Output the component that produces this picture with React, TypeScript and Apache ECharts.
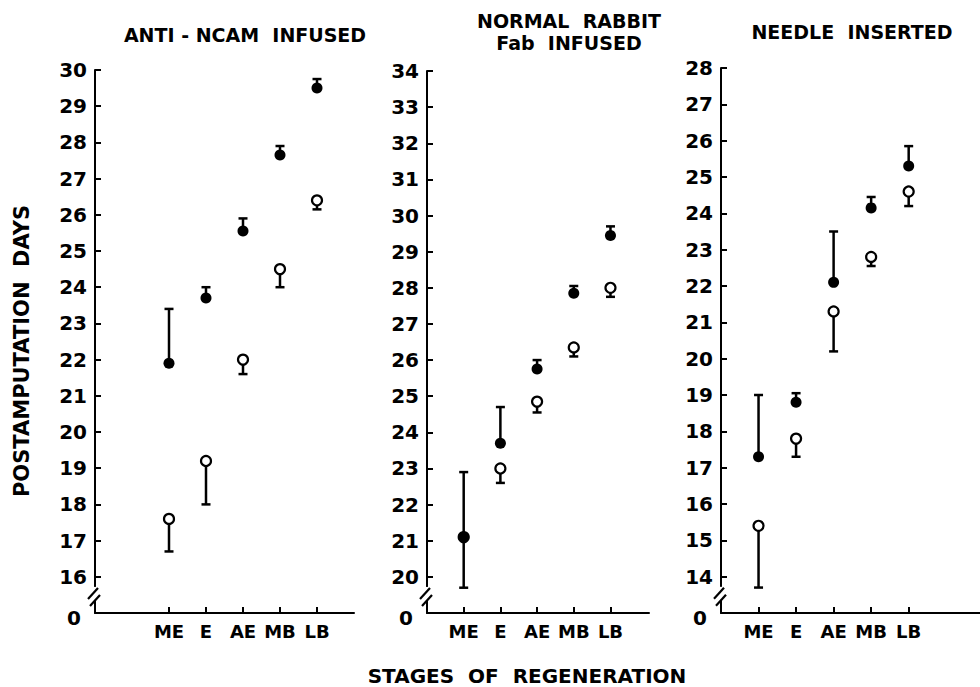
import React, { useEffect, useRef } from 'react';
import * as echarts from 'echarts';

const stages = ['ME', 'E', 'AE', 'MB', 'LB'];
const panelTitles = ['ANTI - NCAM  INFUSED', 'NORMAL  RABBIT\nFab  INFUSED', 'NEEDLE  INSERTED'];
const yAxisName = 'POSTAMPUTATION  DAYS';
const xAxisName = 'STAGES  OF  REGENERATION';

// lowest axis value is drawn as the broken "0"
const yFloor = [15, 19, 13];
const yTop = [30, 34, 28];
const stageOffset = [2, 1, 1];
const xMax = [7, 6.05, 6.9];

const antiFilled = [21.9, 23.7, 25.55, 27.65, 29.5];
const antiFilledUpper = [23.4, 24.0, 25.9, 27.9, 29.75];
const antiOpen = [17.6, 19.2, 22.0, 24.5, 26.4];
const antiOpenLower = [16.7, 18.0, 21.6, 24.0, 26.15];

const rabbitFilled = [21.1, 23.7, 25.75, 27.85, 29.45];
const rabbitFilledUpper = [22.9, 24.7, 26.0, 28.05, 29.7];
const rabbitOpen = [21.1, 23.0, 24.85, 26.35, 28.0];
const rabbitOpenLower = [19.7, 22.6, 24.55, 26.1, 27.75];

const needleFilled = [17.3, 18.8, 22.1, 24.15, 25.3];
const needleFilledUpper = [19.0, 19.05, 23.5, 24.45, 25.85];
const needleOpen = [15.4, 17.8, 21.3, 22.8, 24.6];
const needleOpenLower = [13.7, 17.3, 20.2, 22.55, 24.2];

const panels = [
  { filled: antiFilled, filledEnd: antiFilledUpper, open: antiOpen, openEnd: antiOpenLower },
  { filled: rabbitFilled, filledEnd: rabbitFilledUpper, open: rabbitOpen, openEnd: rabbitOpenLower },
  { filled: needleFilled, filledEnd: needleFilledUpper, open: needleOpen, openEnd: needleOpenLower },
];

const FONT = 'DejaVu Sans';
const grids = [
  { left: 95, top: 70, width: 259, height: 543 },
  { left: 427, top: 71, width: 222, height: 542 },
  { left: 721, top: 68, width: 259, height: 545 },
];
const titlePos = [
  { x: 245, y: 35 },
  { x: 569, y: 32 },
  { x: 852, y: 32 },
];

function errorRender(params: any, api: any) {
  const x = api.value(0);
  const p0 = api.coord([x, api.value(1)]);
  const p1 = api.coord([x, api.value(2)]);
  const st = { stroke: '#000', lineWidth: 2.5 };
  return {
    type: 'group',
    children: [
      { type: 'line', shape: { x1: p0[0], y1: p0[1], x2: p1[0], y2: p1[1] }, style: st },
      { type: 'line', shape: { x1: p1[0] - 4.5, y1: p1[1], x2: p1[0] + 4.5, y2: p1[1] }, style: st },
    ],
  };
}

export default function App() {
  const ref = useRef<HTMLDivElement>(null);
  useEffect(() => {
    if (!ref.current) return;
    const chart = echarts.init(ref.current, null, { renderer: 'svg' });
    const xAxis: any[] = [];
    const yAxis: any[] = [];
    const series: any[] = [];
    panels.forEach((p, i) => {
      const off = stageOffset[i];
      const ticks = stages.map((_, k) => off + k);
      xAxis.push({
        type: 'value', gridIndex: i, min: 0, max: xMax[i],
        splitLine: { show: false },
        axisLine: { lineStyle: { color: '#000', width: 2 } },
        axisTick: { inside: true, length: 6, customValues: ticks, lineStyle: { color: '#000', width: 2 } },
        axisLabel: {
          customValues: ticks, margin: 9,
          formatter: (v: number) => stages[Math.round(v) - off] ?? '',
          color: '#000', fontFamily: FONT, fontWeight: 'bold', fontSize: 18,
        },
      });
      const floor = yFloor[i];
      yAxis.push({
        type: 'value', gridIndex: i, min: floor, max: yTop[i], interval: 1,
        splitLine: { show: false },
        axisLine: { show: true, lineStyle: { color: '#000', width: 2 } },
        axisTick: { show: true, inside: true, length: 6, lineStyle: { color: '#000', width: 2 } },
        axisLabel: {
          margin: 8,
          formatter: (v: number) => (v === floor ? '{z|0}' : String(v)),
          color: '#000', fontFamily: FONT, fontWeight: 'bold', fontSize: 20,
          rich: { z: { padding: [10, 6, 0, 0], color: '#000', fontFamily: FONT, fontWeight: 'bold', fontSize: 20 } },
        },
      });
      series.push({
        type: 'custom', xAxisIndex: i, yAxisIndex: i, z: 1,
        renderItem: errorRender,
        encode: { x: 0, y: [1, 2] },
        data: [
          ...p.filled.map((v, k) => [off + k, v, p.filledEnd[k]]),
          ...p.open.map((v, k) => [off + k, v, p.openEnd[k]]),
        ],
      });
      series.push({
        type: 'scatter', xAxisIndex: i, yAxisIndex: i, z: 3,
        symbol: 'circle', symbolSize: 10,
        itemStyle: { color: '#fff', borderColor: '#000', borderWidth: 2.2, opacity: 1 },
        data: p.open.map((v, k) => [off + k, v]),
      });
      series.push({
        type: 'scatter', xAxisIndex: i, yAxisIndex: i, z: 4,
        symbol: 'circle', symbolSize: 11,
        itemStyle: { color: '#000', opacity: 1 },
        data: p.filled.map((v, k) => [off + k, v]),
      });
    });

    const textStyle = (size: number) => ({
      fill: '#000', font: `bold ${size}px "${FONT}"`, textAlign: 'center', textVerticalAlign: 'middle',
    });
    const graphic: any[] = [];
    panelTitles.forEach((t, i) => {
      graphic.push({
        type: 'text', x: titlePos[i].x, y: titlePos[i].y, z: 10,
        style: { text: t, ...textStyle(19), lineHeight: 22 },
      });
    });
    graphic.push({
      type: 'text', x: 22, y: 351, rotation: Math.PI / 2, z: 10,
      style: { text: yAxisName, ...textStyle(21) },
    });
    graphic.push({
      type: 'text', x: 527, y: 676, z: 10,
      style: { text: xAxisName, ...textStyle(20) },
    });

    chart.setOption({
      animation: false,
      backgroundColor: '#fff',
      grid: grids.map((g) => ({ ...g, containLabel: false })),
      xAxis, yAxis, series, graphic,
    });

    // axis break marks
    const breaks: any[] = [];
    panels.forEach((_, i) => {
      const pt = chart.convertToPixel({ xAxisIndex: i, yAxisIndex: i } as any, [0, yFloor[i] + 0.5]) as number[];
      const x = pt[0];
      const y = pt[1];
      const st = { stroke: '#000', lineWidth: 2.2 };
      breaks.push(
        { type: 'rect', z: 20, shape: { x: x - 3, y: y - 8, width: 6, height: 13 }, style: { fill: '#fff' } },
        { type: 'line', z: 21, shape: { x1: x - 7, y1: y + 4, x2: x + 3, y2: y - 7 }, style: st },
        { type: 'line', z: 21, shape: { x1: x - 5, y1: y + 11, x2: x + 5, y2: y }, style: st },
      );
    });
    chart.setOption({ graphic: [...graphic, ...breaks] });

    return () => chart.dispose();
  }, []);
  return <div ref={ref} style={{ position: 'absolute', left: 0, top: 0, width: 980, height: 687 }} />;
}
